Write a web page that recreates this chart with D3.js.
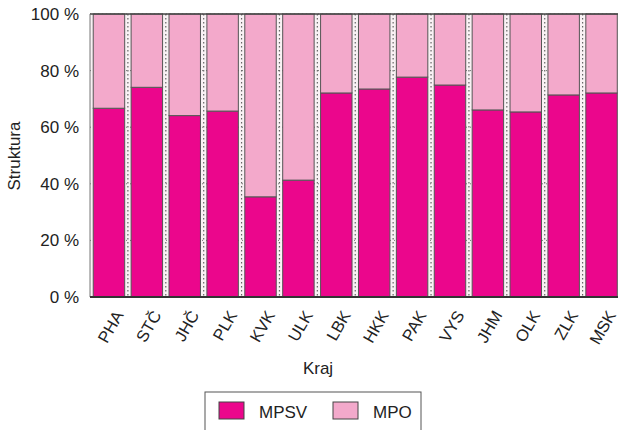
<!DOCTYPE html>
<html><head><meta charset="utf-8">
<script src="https://cdn.jsdelivr.net/npm/d3@7"></script>
<style>body{margin:0;background:#fff}svg{display:block}text{font-family:"Liberation Sans",Arial,sans-serif;fill:#222}</style>
</head><body><svg id="c" width="618" height="430"></svg>
<script>
const categories = ["PHA","STČ","JHČ","PLK","KVK","ULK","LBK","HKK","PAK","VYS","JHM","OLK","ZLK","MSK"];
const mpsv = [66.7,74.1,64.1,65.7,35.4,41.3,72.1,73.5,77.7,74.9,66.1,65.4,71.4,72.1];
const mpo = mpsv.map(v => 100 - v);
const yTicks = [0,20,40,60,80,100];
const seriesNames = ["MPSV","MPO"];
const colors = ["#eb068c","#f3a9cb"];

const svg = d3.select("#c");
const L = 90, R = 620.5, T = 14, B = 297;
const x = d3.scaleBand().domain(categories).range([L, R]).paddingInner(0.17).paddingOuter(0.085);
const y = d3.scaleLinear().domain([0,100]).range([B, T]);

svg.append("rect").attr("x",L).attr("y",T).attr("width",R-L).attr("height",B-T).attr("fill","#f9f1f4");

svg.append("g").selectAll("line").data(yTicks).join("line")
  .attr("x1",L).attr("x2",R).attr("y1",d=>y(d)).attr("y2",d=>y(d))
  .attr("stroke","#777").attr("stroke-width",1).attr("stroke-dasharray","1,3");
const gapHalf = (x.step()-x.bandwidth())/2;
svg.append("g").selectAll("line").data(categories.slice(1)).join("line")
  .attr("x1",d=>x(d)-gapHalf).attr("x2",d=>x(d)-gapHalf)
  .attr("y1",T).attr("y2",B)
  .attr("stroke","#666").attr("stroke-width",1.2).attr("stroke-dasharray","1.5,2.5");

const stack = d3.stack().keys([0,1])(categories.map((c,i)=>[mpsv[i], mpo[i]]));
svg.append("g").selectAll("g").data(stack).join("g").attr("fill",(d,i)=>colors[i])
  .selectAll("rect").data(d=>d).join("rect")
  .attr("x",(d,i)=>x(categories[i])).attr("width",x.bandwidth())
  .attr("y",d=>y(d[1])).attr("height",d=>y(d[0])-y(d[1]))
  .attr("stroke","#555").attr("stroke-width",1);

svg.append("line").attr("x1",L).attr("x2",R).attr("y1",T).attr("y2",T).attr("stroke","#444").attr("stroke-width",1.5);
svg.append("line").attr("x1",L).attr("x2",L).attr("y1",T).attr("y2",B).attr("stroke","#777").attr("stroke-width",1);
svg.append("line").attr("x1",L).attr("x2",R).attr("y1",B).attr("y2",B).attr("stroke","#333").attr("stroke-width",2);

const yAxis = d3.axisLeft(y).tickValues(yTicks).tickFormat(d=>d+" %").tickSize(0).tickPadding(11);
const ya = svg.append("g").attr("transform",`translate(${L},0)`).call(yAxis);
ya.select(".domain").remove();
ya.selectAll("text").attr("font-size",17).attr("fill","#222").style("font-family","Liberation Sans, Arial, sans-serif");

const xAxis = d3.axisBottom(x).tickSize(0).tickPadding(0);
const xa = svg.append("g").attr("transform",`translate(0,${B})`).call(xAxis);
xa.select(".domain").remove();
xa.selectAll("text").attr("font-size",16.5).attr("fill","#222").style("font-family","Liberation Sans, Arial, sans-serif")
  .attr("text-anchor","end").attr("dy","0.35em").attr("y",0)
  .attr("transform","translate(10,15) rotate(-60)");

svg.append("text").attr("x",318).attr("y",374).attr("text-anchor","middle").attr("font-size",17).text("Kraj");
svg.append("text").attr("transform","translate(20,156) rotate(-90)").attr("text-anchor","middle").attr("font-size",17).text("Struktura");

const lg = svg.append("g");
lg.append("rect").attr("x",205).attr("y",392).attr("width",216).attr("height",45).attr("fill","#fff").attr("stroke","#555").attr("stroke-width",1);
const lx = [219, 333];
seriesNames.forEach((n,i)=>{
  lg.append("rect").attr("x",lx[i]).attr("y",402).attr("width",25).attr("height",17).attr("fill",colors[i]).attr("stroke","#444").attr("stroke-width",1);
  lg.append("text").attr("x",lx[i]+40).attr("y",418).attr("font-size",17).text(n);
});
</script></body></html>
